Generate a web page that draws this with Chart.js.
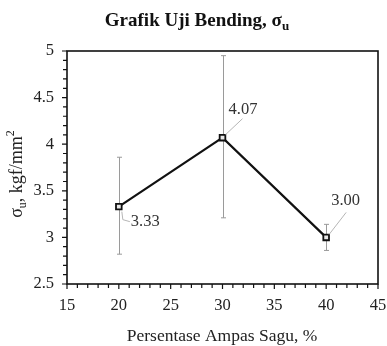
<!DOCTYPE html>
<html>
<head>
<meta charset="utf-8">
<script src="https://cdn.jsdelivr.net/npm/chart.js@4.4.1/dist/chart.umd.min.js"></script>
<style>
  html, body { margin: 0; padding: 0; background: #fff; }
  #wrap { width: 387px; height: 346px; position: relative; }
</style>
</head>
<body>
<div id="wrap"><canvas id="c"></canvas></div>
<script>
// ---- data ----
const percentages = [20, 30, 40];
const meanStrength = [3.33, 4.07, 3.00];
const errorLow = [2.82, 3.21, 2.86];
const errorHigh = [3.86, 4.95, 3.14];
const valueLabels = ['3.33', '4.07', '3.00'];
const xTickValues = [15, 20, 25, 30, 35, 40, 45];
const yTickValues = [2.5, 3, 3.5, 4, 4.5, 5];
const chartTitle = 'Grafik Uji Bending, σ';
const chartTitleSub = 'u';
const xAxisTitle = 'Persentase Ampas Sagu, %';

const SERIF = '"Liberation Serif", "Times New Roman", serif';

// label placement offsets (pixels) relative to each point
const labelOffsets = [
  { dx: 12, dy: 15, leader: [[3, 5], [4, 13], [11, 15]] },
  { dx: 6, dy: -28, leader: [[3, -3], [20, -19]] },
  { dx: 5, dy: -37, leader: [[3, -3], [20, -25]] }
];

const overlay = {
  id: 'overlay',
  beforeDatasetsDraw(chart) {
    const ctx = chart.ctx;
    const xs = chart.scales.x, ys = chart.scales.y;
    ctx.save();
    ctx.strokeStyle = '#9a9a9a';
    ctx.lineWidth = 1;
    percentages.forEach((p, i) => {
      const x = Math.round(xs.getPixelForValue(p)) + 0.5;
      const yl = ys.getPixelForValue(errorLow[i]);
      const yh = ys.getPixelForValue(errorHigh[i]);
      ctx.beginPath();
      ctx.moveTo(x, yl); ctx.lineTo(x, yh);
      ctx.moveTo(x - 2.5, yl); ctx.lineTo(x + 2.5, yl);
      ctx.moveTo(x - 2.5, yh); ctx.lineTo(x + 2.5, yh);
      ctx.stroke();
    });
    ctx.restore();
  },
  afterDraw(chart) {
    const ctx = chart.ctx;
    const a = chart.chartArea;
    const xs = chart.scales.x, ys = chart.scales.y;
    ctx.save();
    // frame
    ctx.strokeStyle = '#111';
    ctx.lineWidth = 1.6;
    ctx.strokeRect(a.left, a.top, a.right - a.left, a.bottom - a.top);
    // ticks (major + minor)
    ctx.lineWidth = 1.2;
    ctx.beginPath();
    for (let v = xTickValues[0]; v <= xTickValues[xTickValues.length - 1]; v += 1) {
      const x = xs.getPixelForValue(v);
      const len = (v % 5 === 0) ? 5 : 4;
      ctx.moveTo(x, a.bottom); ctx.lineTo(x, a.bottom + len);
    }
    for (let k = 25; k <= 50; k += 1) {
      const y = ys.getPixelForValue(k / 10);
      const len = (k % 5 === 0) ? 5 : 4;
      ctx.moveTo(a.left, y); ctx.lineTo(a.left - len, y);
    }
    ctx.stroke();

    // data labels with leader lines
    percentages.forEach((p, i) => {
      const px = xs.getPixelForValue(p);
      const py = ys.getPixelForValue(meanStrength[i]);
      const o = labelOffsets[i];
      ctx.strokeStyle = '#b5b5b5';
      ctx.lineWidth = 1;
      ctx.beginPath();
      o.leader.forEach((pt, j) => {
        if (j === 0) ctx.moveTo(px + pt[0], py + pt[1]);
        else ctx.lineTo(px + pt[0], py + pt[1]);
      });
      ctx.stroke();
      ctx.fillStyle = '#333';
      ctx.font = '16.5px ' + SERIF;
      ctx.textAlign = 'left';
      ctx.textBaseline = 'middle';
      ctx.fillText(valueLabels[i], px + o.dx, py + o.dy);
    });

    // title
    ctx.fillStyle = '#111';
    ctx.textBaseline = 'alphabetic';
    ctx.font = 'bold 19px ' + SERIF;
    const w1 = ctx.measureText(chartTitle).width;
    ctx.font = 'bold 13px ' + SERIF;
    const w2 = ctx.measureText(chartTitleSub).width;
    const tx = 197 - (w1 + w2) / 2;
    ctx.font = 'bold 19px ' + SERIF;
    ctx.textAlign = 'left';
    ctx.fillText(chartTitle, tx, 26);
    ctx.font = 'bold 13px ' + SERIF;
    ctx.fillText(chartTitleSub, tx + w1, 30);

    // x axis title
    ctx.fillStyle = '#222';
    ctx.font = '17.5px ' + SERIF;
    ctx.textAlign = 'center';
    ctx.fillText(xAxisTitle, 222, 341);

    // y axis title (rotated)
    ctx.save();
    ctx.translate(22, 174);
    ctx.rotate(-Math.PI / 2);
    const parts = [
      { t: 'σ', f: '18px ', dy: 0 },
      { t: 'u', f: '12px ', dy: 4 },
      { t: ', kgf/mm', f: '18px ', dy: 0 },
      { t: '2', f: '12px ', dy: -8 }
    ];
    let total = 0;
    parts.forEach(pt => { ctx.font = pt.f + SERIF; pt.w = ctx.measureText(pt.t).width; total += pt.w; });
    let cx = -total / 2;
    ctx.textAlign = 'left';
    parts.forEach(pt => {
      ctx.font = pt.f + SERIF;
      ctx.fillText(pt.t, cx, pt.dy);
      cx += pt.w;
    });
    ctx.restore();

    ctx.restore();
  }
};

const ctxEl = document.getElementById('c');
new Chart(ctxEl, {
  type: 'line',
  data: {
    datasets: [{
      data: percentages.map((p, i) => ({ x: p, y: meanStrength[i] })),
      borderColor: '#111',
      borderWidth: 2.2,
      pointStyle: 'rect',
      pointRadius: 4,
      pointBorderWidth: 1.8,
      pointBorderColor: '#111',
      pointBackgroundColor: '#e8e8e8',
      tension: 0,
      fill: false
    }]
  },
  options: {
    responsive: true,
    maintainAspectRatio: false,
    animation: false,
    devicePixelRatio: 1,
    layout: { padding: { top: 51, right: 9, left: 0, bottom: 0 } },
    plugins: {
      legend: { display: false },
      tooltip: { enabled: false },
      title: { display: false }
    },
    scales: {
      x: {
        type: 'linear',
        min: 15, max: 45,
        afterBuildTicks: s => { s.ticks = xTickValues.map(v => ({ value: v })); },
        afterFit: s => { s.height = 62; s.paddingLeft = 0; s.paddingRight = 0; },
        grid: { display: false, drawTicks: false },
        border: { display: false },
        ticks: {
          padding: 12,
          color: '#222',
          font: { family: SERIF, size: 16.5 },
          maxRotation: 0
        }
      },
      y: {
        type: 'linear',
        min: 2.5, max: 5,
        afterBuildTicks: s => { s.ticks = yTickValues.map(v => ({ value: v })); },
        afterFit: s => { s.width = 67; s.paddingTop = 0; s.paddingBottom = 0; },
        grid: { display: false, drawTicks: false },
        border: { display: false },
        ticks: {
          padding: 13,
          color: '#222',
          font: { family: SERIF, size: 16.5 },
          callback: v => String(v)
        }
      }
    }
  },
  plugins: [overlay]
});
</script>
</body>
</html>
